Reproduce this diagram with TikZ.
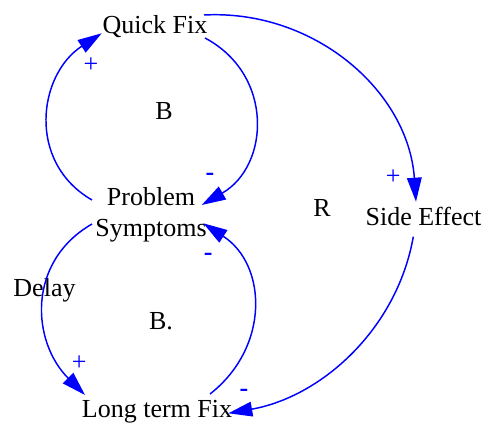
\documentclass[tikz,border=0pt]{standalone}
\usepackage{fontspec}
\setmainfont{Liberation Serif}
\usetikzlibrary{arrows.meta}
\begin{document}
\begin{tikzpicture}[x=0.75pt,y=0.75pt,
  lbl/.style={font=\fontsize{19.5}{23.25}\selectfont, inner sep=0pt, anchor=base},
  sgn/.style={font=\fontsize{19.5}{23.25}\selectfont, text=blue, inner sep=0pt, anchor=base},
  neg/.style={sgn, font=\fontsize{19.5}{23.25}\selectfont\bfseries},
  link/.style={draw=blue, line width=1.1pt, -{Triangle[length=18pt,width=11pt]}}]
\useasboundingbox (0,0) rectangle (483,-424);
% variables
\node[lbl] (qf) at (155,-34) {Quick Fix};
\node[font=\fontsize{19.5}{23.25}\selectfont, inner sep=0pt, align=center] (ps) at (151,-214.4) {Problem\\Symptoms};
\node[lbl] (se) at (423.5,-226) {Side Effect};
\node[lbl] (lt) at (157,-418) {Long term Fix};
% loop and delay labels
\node[lbl] (dl) at (44.5,-297) {Delay};
\node[lbl] (b1) at (164,-120) {B};
\node[lbl] (b2) at (161,-330) {B.};
\node[lbl] (r1) at (322,-217) {R};
% links
\draw[link] ([shift={(-59,14.4)}]ps.center) to[out=150,in=213,looseness=1.16] ([shift={(-53.3,0.7)}]qf.base);
\draw[link] ([shift={(50,-4)}]qf.base) to[out=-28,in=30,looseness=1.2] ([shift={(50.7,9.4)}]ps.center);
\draw[link] ([shift={(49,19)}]qf.base) to[out=3,in=94,looseness=1.0] ([shift={(-7.5,24.3)}]se.base);
\draw[link] ([shift={(-10.2,-10.7)}]se.base) to[out=260,in=10,looseness=0.94] ([shift={(71.3,4.7)}]lt.base);
\draw[link] ([shift={(53,24)}]lt.base) to[out=38,in=327,looseness=1.14] ([shift={(52.3,-8.9)}]ps.center);
\draw[link] ([shift={(-59,-9.6)}]ps.center) to[out=210,in=135,looseness=1.13] ([shift={(-72,23)}]lt.base);
% polarities
\node[sgn] (s1) at (91,-72.5) {+};
\node[neg] (s2) at (210,-180.9) {-};
\node[sgn] (s3) at (393.3,-184.8) {+};
\node[neg] (s4) at (208.3,-260.9) {-};
\node[sgn] (s5) at (79.3,-370.5) {+};
\node[neg] (s6) at (244,-396.9) {-};
\end{tikzpicture}
\end{document}
